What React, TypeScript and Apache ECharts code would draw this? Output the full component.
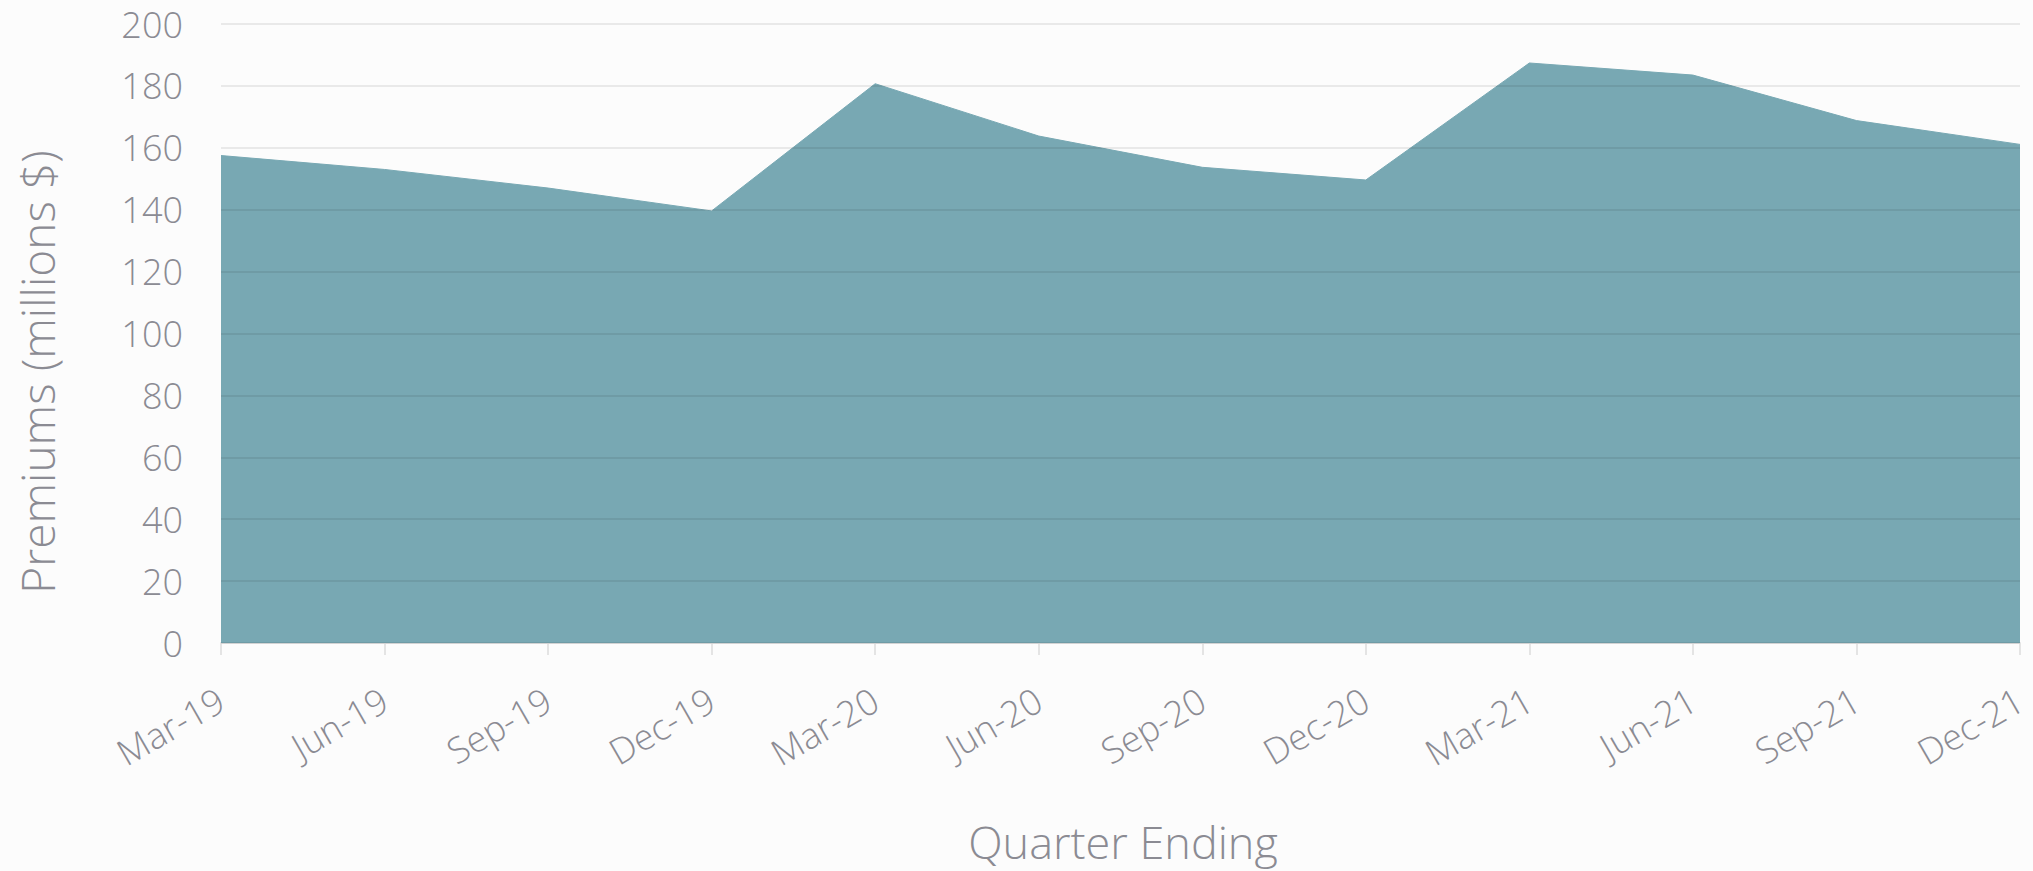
import React, { useEffect, useRef } from "react";
import * as echarts from "echarts";

const quarters = [
  "Mar-19", "Jun-19", "Sep-19", "Dec-19",
  "Mar-20", "Jun-20", "Sep-20", "Dec-20",
  "Mar-21", "Jun-21", "Sep-21", "Dec-21",
];
const premiums = [157.5, 153, 147, 139.6, 180.7, 163.8, 153.7, 149.6, 187.4, 183.5, 168.8, 161.1];
const yTitle = "Premiums (millions $)";
const xTitle = "Quarter Ending";

const W = 2033;
const H = 871;
const textColor = "#8b8b93";
const font = "'Open Sans', 'Noto Sans', sans-serif";
const weight = 350;

export default function App() {
  const ref = useRef<HTMLDivElement>(null);
  useEffect(() => {
    if (!ref.current) return;
    const chart = echarts.init(ref.current, undefined, { renderer: "svg" });
    chart.setOption({
      animation: false,
      backgroundColor: "#fcfcfc",
      grid: { left: 221, right: 13, top: 24, bottom: 228, containLabel: false },
      xAxis: {
        type: "category",
        data: quarters,
        boundaryGap: false,
        axisLine: { show: true, lineStyle: { color: "#e4e4e4", width: 2 } },
        axisTick: { show: true, length: 12, lineStyle: { color: "#e4e4e4", width: 2 } },
        axisLabel: {
          rotate: 30,
          margin: 54,
          color: textColor,
          fontSize: 36,
          fontWeight: weight,
          fontFamily: font,
        },
        splitLine: { show: false },
      },
      yAxis: {
        type: "value",
        min: 0,
        max: 200,
        interval: 20,
        z: 5,
        axisLine: { show: false },
        axisTick: { show: false },
        axisLabel: { color: textColor, fontSize: 36, fontWeight: weight, fontFamily: font, margin: 38 },
        splitLine: { show: true, lineStyle: { color: "rgba(0,0,0,0.075)", width: 2 } },
      },
      series: [
        {
          type: "line",
          data: premiums,
          symbol: "none",
          z: 2,
          lineStyle: { color: "#78a8b3", width: 1 },
          areaStyle: { color: "#78a8b3", opacity: 1 },
        },
      ],
      graphic: [
        {
          type: "text",
          x: 37,
          y: 372,
          rotation: Math.PI / 2,
          style: {
            text: yTitle,
            fill: textColor,
            fontSize: 46,
            fontWeight: weight,
            fontFamily: font,
            align: "center",
            verticalAlign: "middle",
          },
        },
        {
          type: "text",
          x: 1123,
          y: 841,
          style: {
            text: xTitle,
            fill: textColor,
            fontSize: 45,
            fontWeight: weight,
            fontFamily: font,
            align: "center",
            verticalAlign: "middle",
          },
        },
      ],
    });
    return () => chart.dispose();
  }, []);
  return (
    <div
      ref={ref}
      style={{ position: "fixed", left: 0, top: 0, width: W, height: H, background: "#fcfcfc" }}
    />
  );
}
